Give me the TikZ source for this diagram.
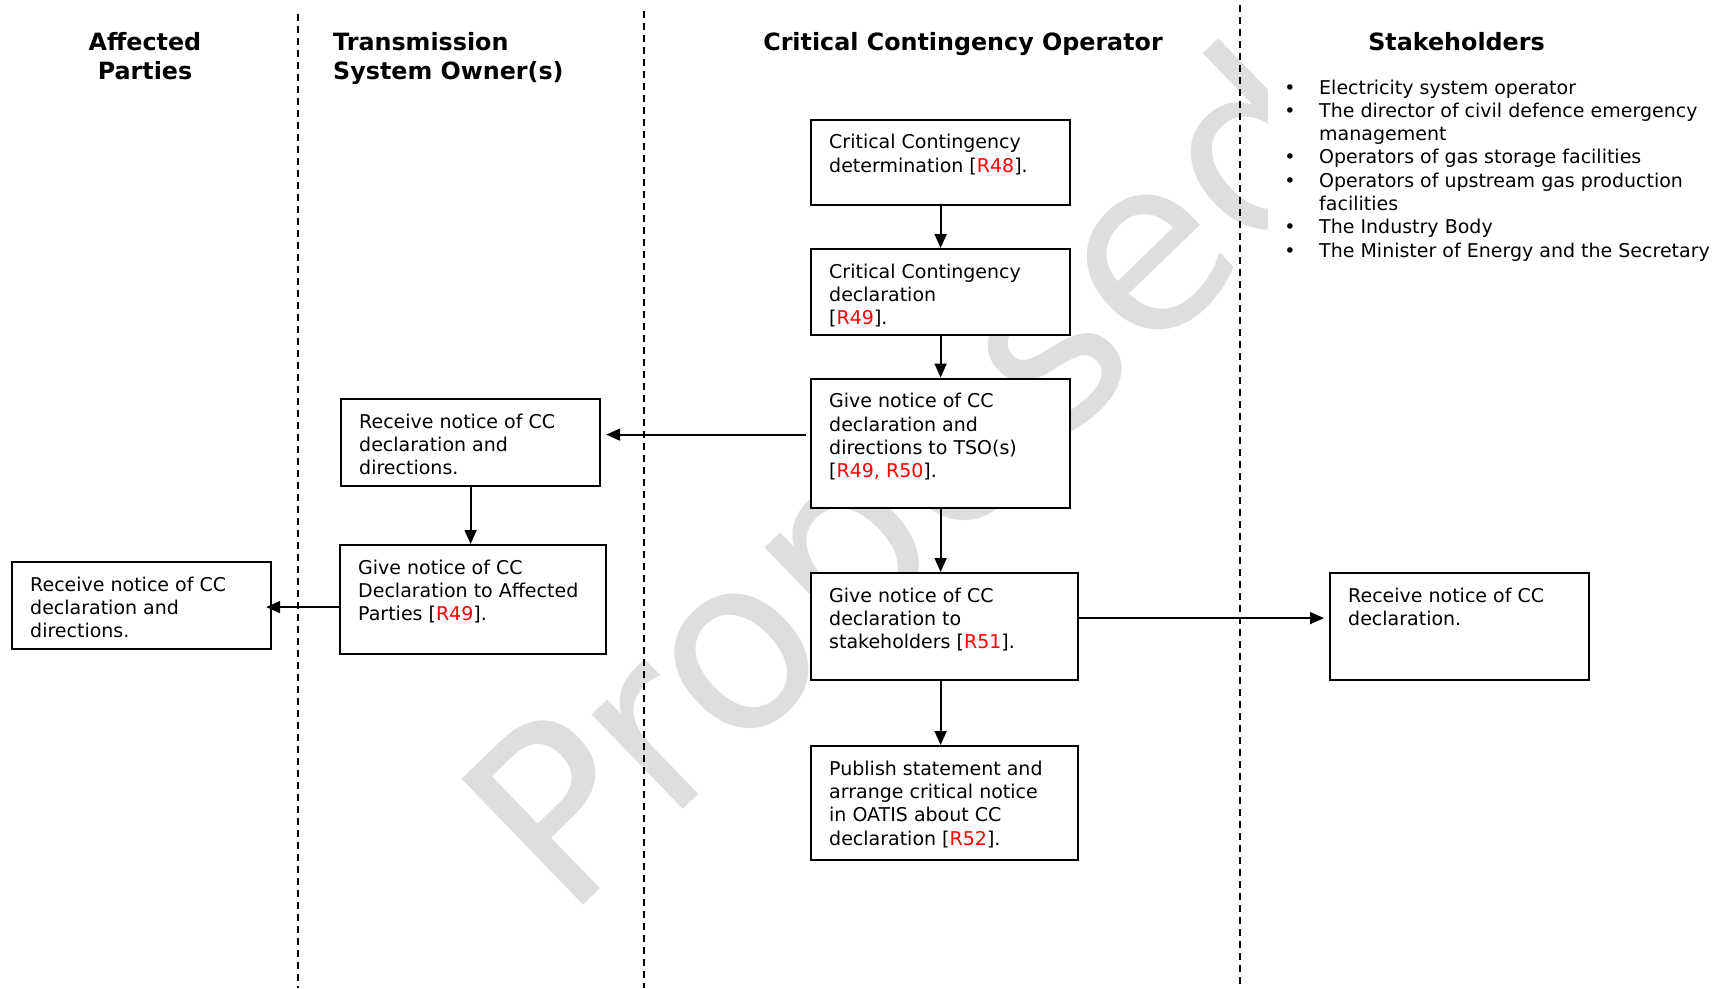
\documentclass[tikz,border=0pt]{standalone}
\usepackage{fontspec}
\setmainfont{DejaVu Sans}
\usetikzlibrary{arrows.meta}
\definecolor{refred}{RGB}{255,0,0}
\definecolor{wmgray}{RGB}{222,222,222}
\newcommand{\rr}[1]{\textcolor{refred}{#1}}
\begin{document}
\begin{tikzpicture}[x=1pt,y=-1pt,
  box/.style={draw=black, line width=2.2pt, fill=white, inner sep=0pt, anchor=north west},
  btxt/.style={anchor=north west, inner sep=0pt, align=left, font=\fontsize{19}{23.3}\selectfont},
  head/.style={inner sep=0pt, align=center, font=\bfseries\fontsize{23.8}{29.6}\selectfont},
  litem/.style={anchor=base west, inner sep=0pt, font=\fontsize{19}{23.3}\selectfont},
  bul/.style={anchor=base, inner sep=0pt, font=\fontsize{19}{23.3}\selectfont},
  lane/.style={dash pattern=on 7pt off 5pt, line width=2pt},
  arr/.style={line width=1.8pt, -{Triangle[length=14pt,width=12pt]}},
  wm/.style={font=\fontsize{240}{240}\selectfont, text=wmgray, rotate=44, anchor=base west, inner sep=0pt}
]
\useasboundingbox (0,0) rectangle (1721,988);
% watermark
\begin{scope}
\clip (0,0) rectangle (1267,988);
\node[wm] (wmark) at (566,922) {Proposed};
\end{scope}
% lanes
\coordinate (l1t) at (298,14); \coordinate (l1b) at (298,988);
\coordinate (l2t) at (644,11); \coordinate (l2b) at (644,988);
\coordinate (l3t) at (1240,5); \coordinate (l3b) at (1240,984);
\draw[lane] (l1t) -- (l1b);
\draw[lane] (l2t) -- (l2b);
\draw[lane] (l3t) -- (l3b);
% headers
\node[head, anchor=north] (hap) at (145,32) {Affected\\Parties};
\node[head, anchor=north west, align=left] (htso) at (333,32) {Transmission\\System Owner(s)};
\node[head, anchor=north] (hcco) at (963,32) {Critical Contingency Operator};
\node[head, anchor=north] (hsh) at (1456.5,32) {Stakeholders};
% stakeholder list
\node[bul] (b1) at (1290,94) {•};
\node[litem] (s1) at (1319,94) {Electricity system operator};
\node[bul] (b2) at (1290,117.3) {•};
\node[litem] (s2) at (1319,117.3) {The director of civil defence emergency};
\node[litem] (s2b) at (1319,140.6) {management};
\node[bul] (b3) at (1290,163.9) {•};
\node[litem] (s3) at (1319,163.9) {Operators of gas storage facilities};
\node[bul] (b4) at (1290,187.2) {•};
\node[litem] (s4) at (1319,187.2) {Operators of upstream gas production};
\node[litem] (s4b) at (1319,210.5) {facilities};
\node[bul] (b5) at (1290,233.8) {•};
\node[litem] (s5) at (1319,233.8) {The Industry Body};
\node[bul] (b6) at (1290,257.1) {•};
\node[litem] (s6) at (1319,257.1) {The Minister of Energy and the Secretary};
% boxes
\node[box, minimum width=259pt, minimum height=85.5pt] (cco1) at (810,118.5) {};
\node[btxt] (t1) at (829,134.1) {Critical Contingency\\determination [\rr{R48}].};
\node[box, minimum width=259pt, minimum height=86pt] (cco2) at (810,248) {};
\node[btxt] (t2) at (829,263.6) {Critical Contingency\\declaration\\{}[\rr{R49}].};
\node[box, minimum width=259pt, minimum height=129pt] (cco3) at (810,377.5) {};
\node[btxt] (t3) at (829,393.1) {Give notice of CC\\declaration and\\directions to TSO(s)\\{}[\rr{R49, R50}].};
\node[box, minimum width=267pt, minimum height=107pt] (cco4) at (810,572) {};
\node[btxt] (t4) at (829,587.6) {Give notice of CC\\declaration to\\stakeholders [\rr{R51}].};
\node[box, minimum width=267pt, minimum height=114pt] (cco5) at (810,745) {};
\node[btxt] (t5) at (829,760.6) {Publish statement and\\arrange critical notice\\in OATIS about CC\\declaration [\rr{R52}].};
\node[box, minimum width=259pt, minimum height=87pt] (tso1) at (340,398) {};
\node[btxt] (t6) at (359,413.6) {Receive notice of CC\\declaration and\\directions.};
\node[box, minimum width=266pt, minimum height=109pt] (tso2) at (339,544) {};
\node[btxt] (t7) at (358,559.6) {Give notice of CC\\Declaration to Affected\\Parties [\rr{R49}].};
\node[box, minimum width=259pt, minimum height=87pt] (ap1) at (11,561) {};
\node[btxt] (t8) at (30,576.6) {Receive notice of CC\\declaration and\\directions.};
\node[box, minimum width=259pt, minimum height=107pt] (sh1) at (1329,572) {};
\node[btxt] (t9) at (1348,587.6) {Receive notice of CC\\declaration.};
% arrows
\draw[arr] (cco1.south) -- (cco2.north);
\draw[arr] (cco2.south) -- (cco3.north);
\draw[arr] (cco3.south) -- (cco3.south |- cco4.north);
\draw[arr] (cco4.south -| cco3.south) -- (cco5.north -| cco3.south);
\draw[arr, shorten >=5pt] ([xshift=-4pt,yshift=8.5pt]cco3.west) -- ([yshift=8.5pt]cco3.west -| tso1.east);
\draw[arr] (tso1.south) -- (tso1.south |- tso2.north);
\draw[arr, shorten >=-6pt] ([yshift=-1.5pt]ap1.east -| tso2.west) -- ([yshift=-1.5pt]ap1.east);
\draw[arr, shorten >=5pt] ([yshift=8.5pt]cco4.east) -- ([yshift=8.5pt]cco4.east -| sh1.west);
\end{tikzpicture}
\end{document}
